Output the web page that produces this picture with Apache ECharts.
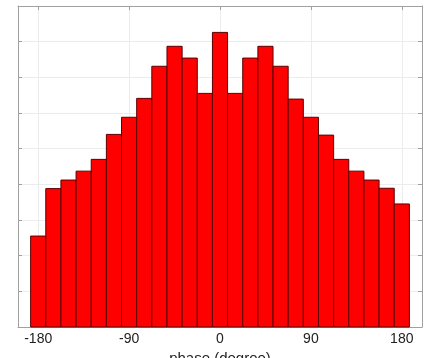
<!DOCTYPE html>
<html>
<head>
<meta charset="utf-8">
<title>phase histogram</title>
<script src="https://cdn.jsdelivr.net/npm/echarts@6/dist/echarts.min.js"></script>
<style>
  html, body { margin: 0; padding: 0; background: #fff; }
</style>
</head>
<body>
<div id="main" style="width: 426px; height: 358px;"></div>
<script type="text/javascript">
// bin centres (degree) and bar heights
var binCenters = [-180, -165, -150, -135, -120, -105, -90, -75, -60, -45, -30, -15, 0,
                  15, 30, 45, 60, 75, 90, 105, 120, 135, 150, 165, 180];
var counts = [2.55, 3.88, 4.12, 4.37, 4.7, 5.4, 5.88, 6.41, 7.31, 7.87, 7.54, 6.55, 8.26,
              6.55, 7.54, 7.87, 7.31, 6.39, 5.88, 5.38, 4.7, 4.37, 4.12, 3.89, 3.45];
var xTicks = [-180, -90, 0, 90, 180];
var binWidth = 15;

var frameColor = '#a0a0a0';
var gridColor = '#ececec';

var chart = echarts.init(document.getElementById('main'));

var data = binCenters.map(function (c, i) { return [c, counts[i]]; });

chart.setOption({
    animation: false,
    grid: { left: 18, right: 4, top: 6, bottom: 31, show: false, outerBoundsMode: 'none' },
    xAxis: [{
        type: 'value',
        min: -200,
        max: 200,
        name: 'phase (degree)',
        nameLocation: 'middle',
        nameGap: 20,
        nameTextStyle: { fontFamily: 'Liberation Sans', fontSize: 15, color: '#222' },
        axisLine: { show: true, onZero: false, lineStyle: { color: frameColor } },
        axisTick: { show: true, inside: true, length: 4, customValues: xTicks, lineStyle: { color: frameColor } },
        axisLabel: { customValues: xTicks, margin: 5, fontFamily: 'Liberation Sans', fontSize: 14, color: '#222' },
        splitLine: { show: true, lineStyle: { color: gridColor } }
    }, {
        type: 'value',
        position: 'top',
        min: -200,
        max: 200,
        axisLine: { show: true, onZero: false, lineStyle: { color: frameColor } },
        axisTick: { show: true, inside: true, length: 4, customValues: xTicks, lineStyle: { color: frameColor } },
        axisLabel: { show: false },
        splitLine: { show: false }
    }],
    yAxis: [{
        type: 'value',
        min: 0,
        max: 9,
        interval: 1,
        axisLine: { show: true, onZero: false, lineStyle: { color: frameColor } },
        axisTick: { show: true, inside: true, length: 4, lineStyle: { color: frameColor } },
        axisLabel: { show: false },
        splitLine: { show: true, lineStyle: { color: gridColor } }
    }, {
        type: 'value',
        position: 'right',
        min: 0,
        max: 9,
        interval: 1,
        axisLine: { show: true, onZero: false, lineStyle: { color: frameColor } },
        axisTick: { show: true, inside: true, length: 4, lineStyle: { color: frameColor } },
        axisLabel: { show: false },
        splitLine: { show: false }
    }],
    series: [{
        type: 'custom',
        xAxisIndex: 0,
        yAxisIndex: 0,
        data: data,
        renderItem: function (params, api) {
            var c = api.value(0);
            var h = api.value(1);
            var p0 = api.coord([c - binWidth / 2, h]);
            var p1 = api.coord([c + binWidth / 2, 0]);
            return {
                type: 'rect',
                shape: { x: p0[0], y: p0[1], width: p1[0] - p0[0], height: p1[1] - p0[1] },
                style: { fill: '#ff0000', stroke: '#5a0000', lineWidth: 1 }
            };
        }
    }]
});
</script>
</body>
</html>
